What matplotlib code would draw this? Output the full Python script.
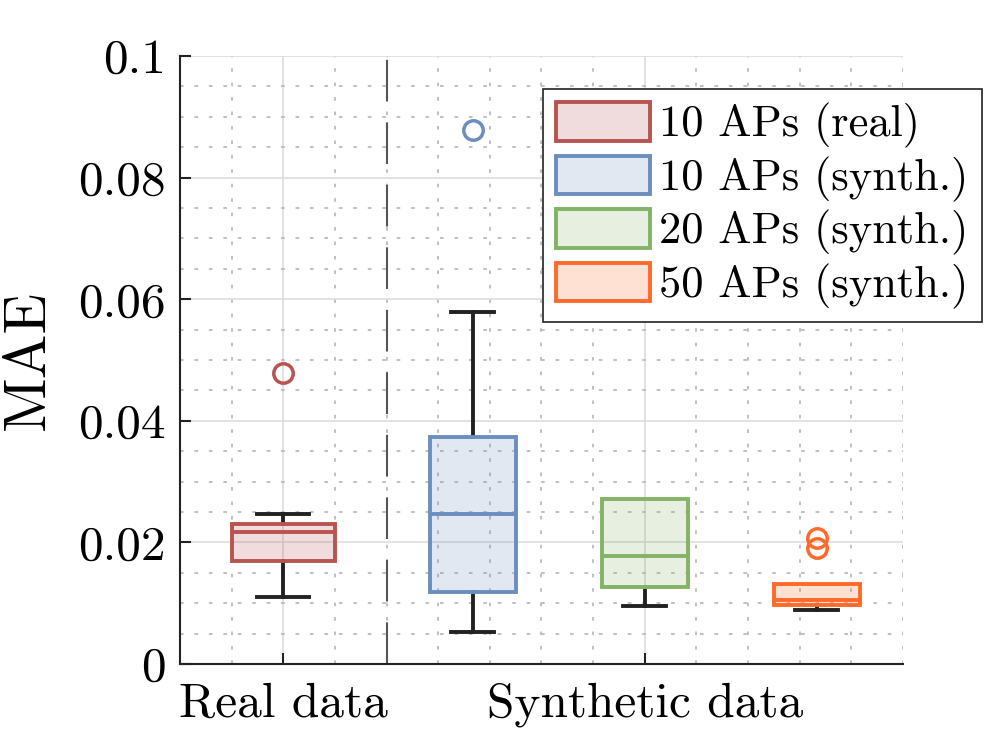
import numpy as np
import matplotlib
matplotlib.use('Agg')
import matplotlib.pyplot as plt
from matplotlib.patches import Patch

plt.rcParams['font.family'] = 'cmr10'
plt.rcParams['mathtext.fontset'] = 'cm'
plt.rcParams['axes.formatter.use_mathtext'] = True

# ---------------- data (box statistics) ----------------
labels   = ['10 APs (real)', '10 APs (synth.)', '20 APs (synth.)', '50 APs (synth.)']
whislo   = [0.0111, 0.0053, 0.0096, 0.0089]
q1       = [0.0170, 0.0119, 0.0127, 0.0097]
med      = [0.0217, 0.0247, 0.0178, 0.0105]
q3       = [0.0230, 0.0374, 0.0271, 0.0132]
whishi   = [0.0247, 0.0579, 0.0271, 0.0132]
fliers   = [[0.0479], [0.0879], [], [0.0208, 0.0190]]

edge_cols = ['#B85450', '#6C8EBF', '#82B366', '#FF6A2B']
positions = [2.0, 17/3, 9.0, 37/3]
widths    = [2.0, 5/3, 5/3, 5/3]

group_ticks  = [2, 9]
group_labels = ['Real data', 'Synthetic data']
yticks       = [0, 0.02, 0.04, 0.06, 0.08, 0.1]
ytick_labels = ['0', '0.02', '0.04', '0.06', '0.08', '0.1']

# ---------------- figure ----------------
fig = plt.figure(figsize=(9.96, 7.47), dpi=100)
ax = fig.add_axes([0.1807, 0.1111, 0.7259, 0.8139])

for i in range(len(labels)):
    st = dict(med=med[i], q1=q1[i], q3=q3[i],
              whislo=whislo[i], whishi=whishi[i], fliers=fliers[i])
    bp = ax.bxp([st], positions=[positions[i]], widths=[widths[i]],
                capwidths=[widths[i] / 2], patch_artist=True, showfliers=True,
                boxprops=dict(facecolor=edge_cols[i] + '33', edgecolor=edge_cols[i], linewidth=2.8),
                medianprops=dict(color=edge_cols[i], linewidth=2.8),
                whiskerprops=dict(color='#222222', linewidth=2.8),
                capprops=dict(color='#222222', linewidth=2.8),
                flierprops=dict(marker='o', markersize=14, markerfacecolor='none',
                                markeredgecolor=edge_cols[i], markeredgewidth=2.5))
    # box sopra i baffi
    for c in bp['caps'] + bp['whiskers']:
        c.set_zorder(3)
    for b in bp['boxes']:
        b.set_zorder(4)
    for m in bp['medians'] + bp['fliers']:
        m.set_zorder(5)
    # baffo superiore nullo -> niente cap
    if whishi[i] <= q3[i]:
        bp['caps'][1].set_visible(False)
        bp['whiskers'][1].set_visible(False)

# separatore tra dati reali e sintetici
ax.axvline(4, color='#555555', lw=1.5, dashes=(20, 10), zorder=2)

ax.set_xlim(0, 14)
ax.set_ylim(0, 0.1)
ax.set_xticks(group_ticks)
ax.set_xticklabels(group_labels, fontsize=35.5)
ax.set_xticks(np.arange(0, 15, 1), minor=True)
ax.set_yticks(yticks)
ax.set_yticklabels(ytick_labels, fontsize=35.5)
ax.set_yticks(np.arange(0, 0.1001, 0.005), minor=True)
ax.tick_params(axis='both', which='major', direction='in', length=8, width=1.5, color='#222222')
ax.tick_params(axis='x', which='major', pad=13)
ax.tick_params(axis='y', which='major', pad=10)
ax.tick_params(axis='both', which='minor', length=0)
ax.set_ylabel('MAE', fontsize=43, labelpad=16)

ax.grid(which='major', color='#DDDDDD', lw=1.2, zorder=0)
ax.grid(which='minor', color='#BBBBBB', lw=1.3, linestyle=(0, (2, 6)), zorder=0)
ax.set_axisbelow(True)

for s in ['top', 'right']:
    ax.spines[s].set_visible(False)
for s in ['left', 'bottom']:
    ax.spines[s].set_linewidth(1.5)
    ax.spines[s].set_color('#222222')

handles = [Patch(facecolor=edge_cols[i] + '33', edgecolor=edge_cols[i], linewidth=2.8)
           for i in range(len(labels))]
leg = ax.legend(handles, labels, loc='upper right', bbox_to_anchor=(0.986, 0.881),
                bbox_transform=fig.transFigure, fontsize=32, frameon=True, fancybox=False,
                framealpha=1, edgecolor='#222222', handlelength=2.1, handleheight=0.95,
                handletextpad=0.22, labelspacing=0.17, borderpad=0.3, borderaxespad=0)
leg.get_frame().set_linewidth(1.2)

plt.savefig('out.png', dpi=100)
